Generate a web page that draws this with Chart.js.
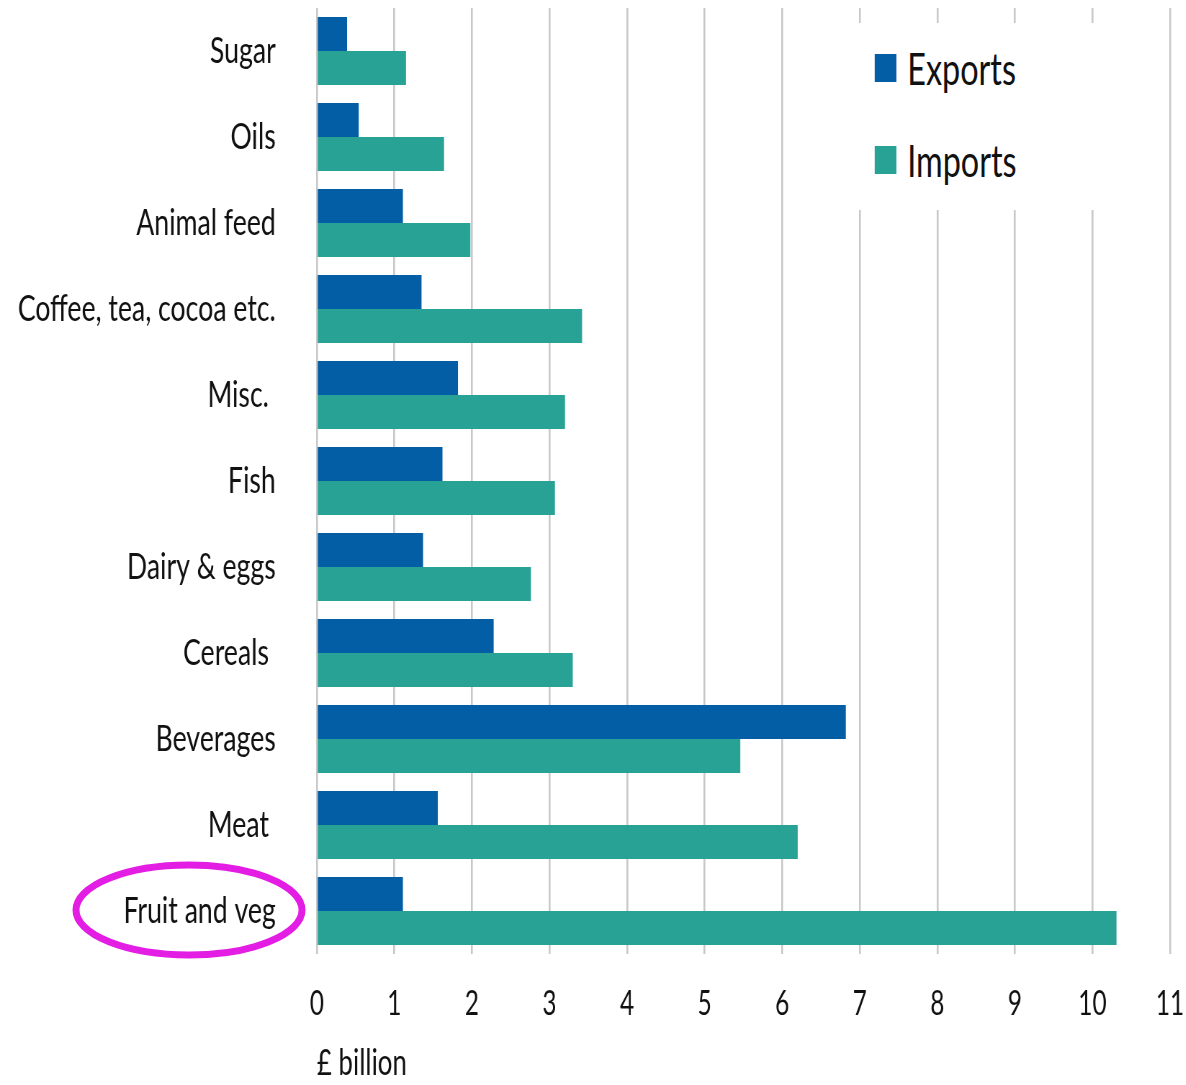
<!DOCTYPE html>
<html>
<head>
<meta charset="utf-8">
<script src="https://cdn.jsdelivr.net/npm/chart.js@4/dist/chart.umd.min.js"></script>
<style>
  html, body { margin: 0; padding: 0; background: #fff; }
  body { width: 1186px; height: 1085px; position: relative; overflow: hidden; }
  /* the reference looks squeezed sideways, so draw wide and squash */
  #wrap { position: absolute; left: 0; top: 0; width: 1647px; height: 1085px; transform: scaleX(0.72); transform-origin: 0 0; }
  #legend { position: absolute; left: 1180px; top: 23px; width: 348px; height: 187px; background: #fff; font-family: Lato, sans-serif; font-size: 45px; color: #111; }
  .item { position: absolute; left: 35px; display: flex; align-items: center; }
  .item i { display: inline-block; width: 30px; height: 28px; margin-right: 15px; }
  #ring { position: absolute; left: 0; top: 0; pointer-events: none; }
</style>
</head>
<body>
<div id="wrap">
  <canvas id="chart"></canvas>
  <div id="legend">
    <div class="item" style="top:18px"><i style="background:#035ea5"></i>Exports</div>
    <div class="item" style="top:110px"><i style="background:#27a295"></i>Imports</div>
  </div>
</div>
<svg id="ring" width="1186" height="1085">
  <ellipse cx="189" cy="910" rx="113" ry="45" fill="none" stroke="#e31de3" stroke-width="7"/>
</svg>
<script>
'use strict';

const categories = ['Sugar', 'Oils', 'Animal feed', 'Coffee, tea, cocoa etc.', 'Misc. ', 'Fish',
    'Dairy & eggs', 'Cereals ', 'Beverages', 'Meat ', 'Fruit and veg'];
const exportsBn = [0.39, 0.54, 1.11, 1.35, 1.82, 1.62, 1.37, 2.28, 6.82, 1.56, 1.11];
const importsBn = [1.15, 1.64, 1.98, 3.42, 3.20, 3.07, 2.76, 3.30, 5.46, 6.20, 10.31];
const xTicks = [0, 1, 2, 3, 4, 5, 6, 7, 8, 9, 10, 11];

const W = 1647, H = 1085;
const canvas = document.getElementById('chart');
canvas.style.width = W + 'px';
canvas.style.height = H + 'px';

new Chart(canvas, {
    type: 'bar',
    data: {
        labels: categories,
        datasets: [
            { label: 'Exports', data: exportsBn, backgroundColor: '#035ea5' },
            { label: 'Imports', data: importsBn, backgroundColor: '#27a295' }
        ]
    },
    options: {
        indexAxis: 'y',
        responsive: false,
        animation: false,
        maintainAspectRatio: false,
        layout: { padding: { top: 8, left: 0, right: 22, bottom: 0 } },
        datasets: { bar: { categoryPercentage: 0.79, barPercentage: 1.0 } },
        plugins: { legend: { display: false }, tooltip: { enabled: false } },
        scales: {
            x: {
                min: 0, max: 11,
                afterBuildTicks: (s) => { s.ticks = xTicks.map(v => ({ value: v })); },
                afterFit: (s) => {
                    s.height = H - 954;
                    s.paddingLeft = 0; s.paddingRight = 0;
                },
                grid: { color: '#c8c8c8', lineWidth: 2.6, drawTicks: false },
                border: { display: false },
                ticks: { padding: 30, color: '#111', font: { family: 'Lato', size: 34 } },
                title: {
                    display: true, text: '£ billion', align: 'start', padding: 0,
                    color: '#111', font: { family: 'Lato', size: 36 }
                }
            },
            y: {
                afterFit: (s) => {
                    s.width = 440;
                    s.paddingTop = 0; s.paddingBottom = 0;
                },
                grid: { display: false, drawTicks: false },
                border: { display: false },
                ticks: { padding: 57, color: '#111', font: { family: 'Lato', size: 37 } }
            }
        }
    }
});
</script>
</body>
</html>
